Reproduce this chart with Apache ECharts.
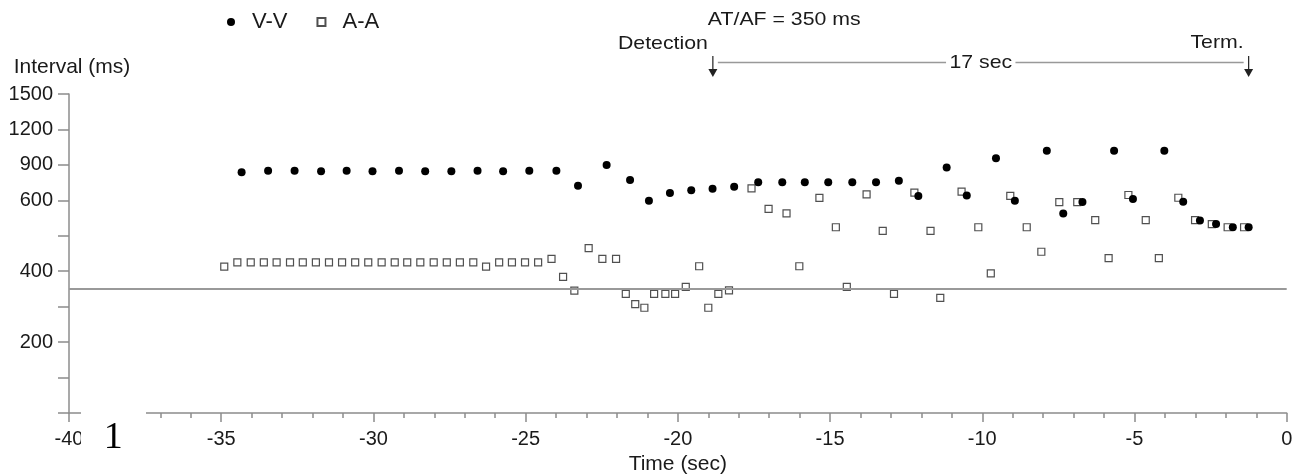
<!DOCTYPE html>
<html><head><meta charset="utf-8">
<script src="https://cdn.jsdelivr.net/npm/echarts@6/dist/echarts.min.js"></script>
<style>html,body{margin:0;padding:0;background:#fff}#c{width:1309px;height:474px}</style>
</head><body><div id="c"></div>
<script>
// ---- data (time in sec, interval in ms) ----
const vvTime = [-34.33,-33.46,-32.59,-31.72,-30.88,-30.03,-29.16,-28.30,-27.44,-26.58,-25.74,-24.88,-23.99,-23.28,
  -22.34,-21.57,-20.95,-20.26,-19.56,-18.86,-18.15,-17.36,-16.57,-15.83,-15.06,-14.27,-13.49,-12.74,-12.10,
  -11.17,-10.51,-9.55,-8.93,-7.88,-7.34,-6.71,-5.67,-5.05,-4.02,-3.40,-2.85,-2.32,-1.77,-1.25];
const vvInterval = [838,851,851,846,851,846,851,846,846,851,846,851,851,724,
  899,772,599,662,685,699,716,753,753,753,753,753,753,766,637,
  877,640,956,599,1020,563,595,1020,611,1020,596,543,533,524,524];
const aaTime = [-34.90,-34.47,-34.03,-33.60,-33.18,-32.74,-32.32,-31.89,-31.46,-31.03,-30.60,-30.17,-29.73,-29.30,
  -28.89,-28.46,-28.02,-27.59,-27.16,-26.72,-26.30,-25.87,-25.45,-25.02,-24.59,-24.15,-23.77,-23.40,
  -22.93,-22.48,-22.03,-21.71,-21.40,-21.10,-20.78,-20.41,-20.09,-19.74,-19.30,-19.00,-18.67,-18.32,
  -17.58,-17.02,-16.43,-16.01,-15.35,-14.81,-14.45,-13.80,-13.27,-12.90,-12.23,-11.70,-11.38,-10.68,
  -10.13,-9.72,-9.08,-8.54,-8.06,-7.47,-6.88,-6.29,-5.85,-5.20,-4.63,-4.20,-3.56,-3.01,-2.46,-1.94,-1.40];
const aaInterval = [413,425,425,425,425,425,425,425,425,425,425,425,425,425,
  425,425,425,425,425,425,413,425,425,425,425,435,384,345,
  465,435,435,336,307,297,336,336,336,356,414,297,336,346,
  702,576,563,414,620,524,356,651,514,336,665,514,325,673,
  524,394,637,524,455,595,595,544,437,645,544,437,622,544,533,524,524];
const yTickValues = [0,100,200,300,400,500,600,900,1200,1500];
const yTickLabels = ['','','200','','400','','600','900','1200','1500'];
const thresholdMs = 350;
const detectionTime = -18.85;
const termTime = -1.25;
const thresholdLabel = 'AT/AF = 350 ms';
const durationLabel = '17 sec';

// piecewise-linear interval scale (0-600 by 100, 600-1500 by 300)
function toAxis(ms){
  for (let i=1;i<yTickValues.length;i++){
    if (ms <= yTickValues[i]) return (i-1) + (ms-yTickValues[i-1])/(yTickValues[i]-yTickValues[i-1]);
  }
  return yTickValues.length-1;
}
const FONT = "'Liberation Sans', Arial, sans-serif";
const axisGray = '#8c8c8c';
const txt = '#1a1a1a';
const sq = 'path://M0,0L10,0L10,10L0,10Z';

const chart = echarts.init(document.getElementById('c'), null, {renderer:'canvas'});
chart.setOption({
  animation:false,
  backgroundColor:'#fff',
  grid:{left:69, right:22.3, top:94, bottom:61, containLabel:false, outerBoundsMode:'none'},
  legend:{
    left:222, top:6, itemWidth:8, itemHeight:8, itemGap:29,
    textStyle:{fontFamily:FONT, fontSize:22, color:txt, padding:[0,0,0,12]},
    data:[{name:'V-V', icon:'circle'},{name:'A-A', icon:sq}]
  },
  xAxis:{
    type:'value', min:-40, max:0, interval:5,
    name:'Time (sec)', nameLocation:'middle', nameGap:38,
    nameTextStyle:{fontFamily:FONT, fontSize:21, color:txt},
    axisLine:{onZero:false, lineStyle:{color:axisGray, width:1.5}},
    axisTick:{length:9, lineStyle:{color:axisGray, width:1.5}},
    minorTick:{show:true, splitNumber:5, length:5, lineStyle:{color:axisGray, width:1.5}},
    splitLine:{show:false},
    axisLabel:{fontFamily:FONT, fontSize:20, color:txt, margin:16}
  },
  yAxis:{
    type:'value', min:0, max:yTickValues.length-1, interval:1,
    name:'Interval (ms)', nameLocation:'end', nameGap:16,
    nameTextStyle:{fontFamily:FONT, fontSize:21, color:txt, padding:[0,0,0,6]},
    axisLine:{onZero:false, lineStyle:{color:axisGray, width:1.5}},
    axisTick:{length:11, lineStyle:{color:axisGray, width:1.5}},
    splitLine:{show:false},
    axisLabel:{fontFamily:FONT, fontSize:20, color:txt, margin:16,
      formatter:(v)=>yTickLabels[Math.round(v)] || ''}
  },
  series:[
    {
      name:'A-A', type:'scatter', symbol:'rect', symbolSize:7,
      itemStyle:{color:'#fff', borderColor:'#505050', borderWidth:1.2, opacity:1},
      data:aaTime.map((t,i)=>[t, toAxis(aaInterval[i])]),
      markLine:{silent:true, symbol:'none', label:{show:false},
        lineStyle:{color:'#999', width:2, type:'solid'},
        data:[{yAxis:toAxis(thresholdMs)}]},
      z:2
    },
    {
      name:'V-V', type:'scatter', symbol:'circle', symbolSize:8,
      itemStyle:{color:'#000', opacity:1},
      data:vvTime.map((t,i)=>[t, toAxis(vvInterval[i])]),
      z:3
    }
  ]
});

// annotations placed from data coordinates
const xDet = chart.convertToPixel({xAxisIndex:0}, detectionTime);
const xTerm = chart.convertToPixel({xAxisIndex:0}, termTime);
const sx = 1.12;
function arrow(x){
  return [
    {type:'line', shape:{x1:x, y1:56, x2:x, y2:72}, style:{stroke:'#222', lineWidth:1.2}, z:110},
    {type:'polygon', shape:{points:[[x-4.5,69],[x+4.5,69],[x,77]]}, style:{fill:'#222'}, z:110}
  ];
}
chart.setOption({
  graphic:[
    {type:'rect', shape:{x:81, y:405, width:65, height:69}, style:{fill:'#fff'}, z:100},
    {type:'text', x:113.3, y:438, z:101, style:{text:'1', fontFamily:"'Liberation Serif', 'Times New Roman', serif", fontSize:38, fill:'#000', align:'center', verticalAlign:'middle'}},
    {type:'text', x:xDet-5, y:20, scaleX:sx, z:101, style:{text:thresholdLabel, fontFamily:FONT, fontSize:19, fill:txt, align:'left', verticalAlign:'middle'}},
    {type:'text', x:xDet-5, y:43.3, scaleX:sx, z:101, style:{text:'Detection', fontFamily:FONT, fontSize:19, fill:txt, align:'right', verticalAlign:'middle'}},
    {type:'text', x:xTerm-5, y:42.5, scaleX:sx, z:101, style:{text:'Term.', fontFamily:FONT, fontSize:19, fill:txt, align:'right', verticalAlign:'middle'}},
    {type:'line', shape:{x1:xDet+5, y1:62.5, x2:xTerm-5, y2:62.5}, style:{stroke:'#999', lineWidth:1.5}, z:105},
    {type:'text', x:(xDet+xTerm)/2, y:62.5, scaleX:sx, z:106, style:{text:durationLabel, fontFamily:FONT, fontSize:19, fill:txt, align:'center', verticalAlign:'middle', backgroundColor:'#fff', padding:[0,3]}},
    ...arrow(xDet), ...arrow(xTerm)
  ]
});
</script></body></html>
